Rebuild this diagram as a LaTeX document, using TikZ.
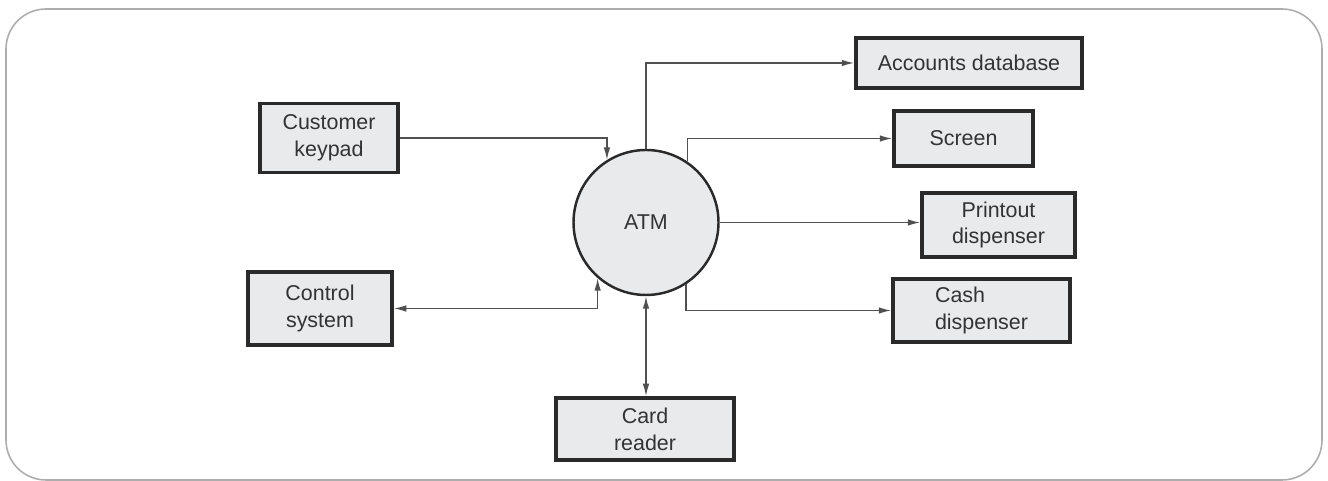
\documentclass[tikz,border=0pt]{standalone}
\usepackage{fontspec}
\setmainfont{Liberation Sans}
\usepackage{tikz}
\usetikzlibrary{arrows.meta,positioning,shapes.geometric,calc}
\usepackage{xcolor}
\definecolor{boxfill}{HTML}{E9EAEC}
\definecolor{boxline}{HTML}{2A2A2A}
\definecolor{wire}{HTML}{505050}
\definecolor{framegray}{HTML}{ADADAD}
\definecolor{inkgray}{HTML}{333333}

\begin{document}
\begin{tikzpicture}[
    unit/.style={rectangle, draw=boxline, line width=2pt, fill=boxfill, align=center, inner sep=2pt,
      text=inkgray, font=\fontsize{12.2}{15.3}\selectfont},
    proc/.style={circle, draw=boxline, line width=1.4pt, fill=boxfill, minimum size=2.9cm, inner sep=0pt,
      text=inkgray, font=\fontsize{12.2}{15.3}\selectfont},
    arrow/.style={-{Latex[length=2.5mm,width=1.3mm]}, draw=wire, line width=0.8pt},
    biarrow/.style={{Latex[length=2.5mm,width=1.3mm]}-{Latex[length=2.5mm,width=1.3mm]}, draw=wire, line width=0.8pt}
]
  \useasboundingbox (0,0) rectangle (26.56,9.62);
  % Frame
  \draw[framegray, line width=0.9pt, rounded corners=0.8cm] (0.12,0.02) rectangle (26.44,9.44);

  % Centre process
  \node[proc] (atm) at (12.92,5.17) {ATM};

  % Left side
  \node[unit, minimum width=2.76cm, minimum height=1.38cm] (keypad) at (6.58,6.86) {Customer\\keypad};
  \node[unit, minimum width=2.88cm, minimum height=1.46cm] (control) at (6.40,3.45) {Control\\system};

  % Bottom
  \node[unit, minimum width=3.56cm, minimum height=1.24cm] (card) at (12.90,1.04) {Card\\reader};

  % Right side
  \node[unit, minimum width=4.52cm, minimum height=1.0cm] (accounts) at (19.38,8.36) {Accounts database};
  \node[unit, minimum width=2.78cm, minimum height=1.1cm] (screen) at (19.27,6.85) {Screen};
  \node[unit, minimum width=3.06cm, minimum height=1.28cm] (printout) at (19.97,5.12) {Printout\\dispenser};
  \node[unit, minimum width=3.54cm, minimum height=1.26cm, align=left] (cash) at (19.63,3.41) {Cash\\dispenser};

  % Arrows
  \draw[arrow] (keypad.east) -| (atm.122);
  \draw[biarrow] (control.east) -| (atm.229);
  \draw[biarrow] (atm.south) -- (atm.south |- card.north);
  \draw[arrow] (atm.north) |- (accounts.west);
  \draw[arrow] (atm.56) |- (screen.west);
  \draw[arrow] (atm.east) -- (atm.east -| printout.west);
  \draw[arrow] (atm.303) |- (cash.west);
\end{tikzpicture}
\end{document}
